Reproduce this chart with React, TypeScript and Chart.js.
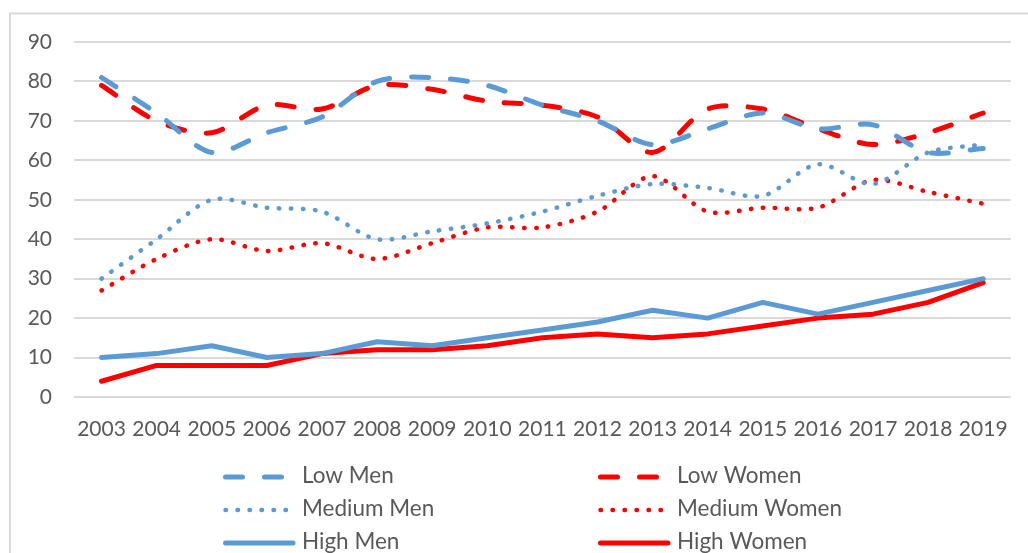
import React, { useEffect, useRef } from "react";
import { Chart, registerables } from "chart.js";

Chart.register(...registerables);

const years = ["2003","2004","2005","2006","2007","2008","2009","2010","2011","2012","2013","2014","2015","2016","2017","2018","2019"];
const lowMen = [81, 72, 62, 67, 71, 80, 81, 79, 74, 70, 64, 68, 72, 68, 69, 62, 63];
const lowWomen = [79, 70, 67, 74, 73, 79, 78, 75, 74, 71, 62, 73, 73, 68, 64, 67, 72];
const mediumMen = [30, 40, 50, 48, 47, 40, 42, 44, 47, 51, 54, 53, 51, 59, 54, 62, 64];
const mediumWomen = [27, 35, 40, 37, 39, 35, 39, 43, 43, 47, 56, 47, 48, 48, 55, 52, 49];
const highMen = [10, 11, 13, 10, 11, 14, 13, 15, 17, 19, 22, 20, 24, 21, 24, 27, 30];
const highWomen = [4, 8, 8, 8, 11, 12, 12, 13, 15, 16, 15, 16, 18, 20, 21, 24, 29];
const yTicks = [0, 10, 20, 30, 40, 50, 60, 70, 80, 90];

const BLUE = "#5B9BD5";
const RED = "#FF0000";
const TEXT = "#595959";
const GRID = "#D9D9D9";
const FONT = "Lato";

const DASH = [17, 22];
const DOT = [0.5, 11.5];

const legendPlugin = {
  id: "customLegend",
  afterDraw(chart: any) {
    const ctx = chart.ctx;
    const cols = [223, 598];
    const rows = [477, 510, 543];
    ctx.save();
    chart.data.datasets.forEach((ds: any, di: number) => {
      const col = di % 2;
      const row = Math.floor(di / 2);
      const x = cols[col];
      const y = rows[row];
      ctx.beginPath();
      ctx.strokeStyle = ds.borderColor;
      ctx.lineWidth = ds.borderWidth;
      ctx.lineCap = "round";
      ctx.setLineDash(ds.borderDash || []);
      const len = ds.borderDash && ds.borderDash.length ? 66 : 70;
      ctx.moveTo(x + 2.5, y);
      ctx.lineTo(x + len, y);
      ctx.stroke();
      ctx.setLineDash([]);
      ctx.fillStyle = TEXT;
      ctx.font = `22.5px ${FONT}`;
      ctx.textBaseline = "middle";
      ctx.textAlign = "left";
      ctx.fillText(ds.label, x + 79, y - 1);
    });
    ctx.restore();
  },
};

const borderPlugin = {
  id: "frame",
  beforeDraw(chart: any) {
    const ctx = chart.ctx;
    ctx.save();
    ctx.strokeStyle = GRID;
    ctx.lineWidth = 2;
    ctx.beginPath();
    ctx.moveTo(10, 600);
    ctx.lineTo(10, 13.5);
    ctx.lineTo(1100, 13.5);
    ctx.stroke();
    ctx.restore();
  },
};

export default function App() {
  const ref = useRef<HTMLCanvasElement>(null);
  useEffect(() => {
    if (!ref.current) return;
    const mk = (label: string, data: number[], color: string, dash: number[]) => ({
      label,
      data,
      borderColor: color,
      backgroundColor: color,
      borderWidth: dash === DOT ? 4.5 : 5,
      borderDash: dash,
      borderCapStyle: "round" as const,
      borderJoinStyle: "round" as const,
      pointRadius: 0,
      pointHoverRadius: 0,
      tension: dash.length ? 0.3 : 0,
      fill: false,
    });
    const chart = new Chart(ref.current, {
      type: "line",
      data: {
        labels: years,
        datasets: [
          mk("Low Men", lowMen, BLUE, DASH),
          mk("Low Women", lowWomen, RED, DASH),
          mk("Medium Men", mediumMen, BLUE, DOT),
          mk("Medium Women", mediumWomen, RED, DOT),
          mk("High Men", highMen, BLUE, []),
          mk("High Women", highWomen, RED, []),
        ],
      },
      options: {
        animation: false,
        responsive: false,
        maintainAspectRatio: false,
        layout: { padding: { top: 42, right: 15, bottom: 116, left: 0 } },
        plugins: {
          legend: { display: false },
          tooltip: { enabled: false },
        },
        scales: {
          x: {
            offset: true,
            grid: { display: false, drawTicks: false },
            border: { display: false },
            ticks: {
              color: TEXT,
              font: { family: FONT, size: 21 },
              padding: 20,
              maxRotation: 0,
              autoSkip: false,
            },
            afterFit: (s: any) => { s.height = 40; },
          },
          y: {
            min: 0,
            max: 90,
            afterBuildTicks: (s: any) => { s.ticks = yTicks.map((v) => ({ value: v })); },
            grid: { color: GRID, lineWidth: 2, drawTicks: false },
            border: { display: false },
            ticks: {
              color: TEXT,
              font: { family: FONT, size: 21 },
              padding: 22,
            },
            afterFit: (s: any) => { s.width = 74; },
          },
        },
      },
      plugins: [borderPlugin, legendPlugin],
    });
    return () => chart.destroy();
  }, []);
  return (
    <div style={{ position: "absolute", left: 0, top: 0, width: 1028, height: 553, background: "#fff" }}>
      <canvas ref={ref} width={1028} height={553} style={{ display: "block" }} />
    </div>
  );
}
